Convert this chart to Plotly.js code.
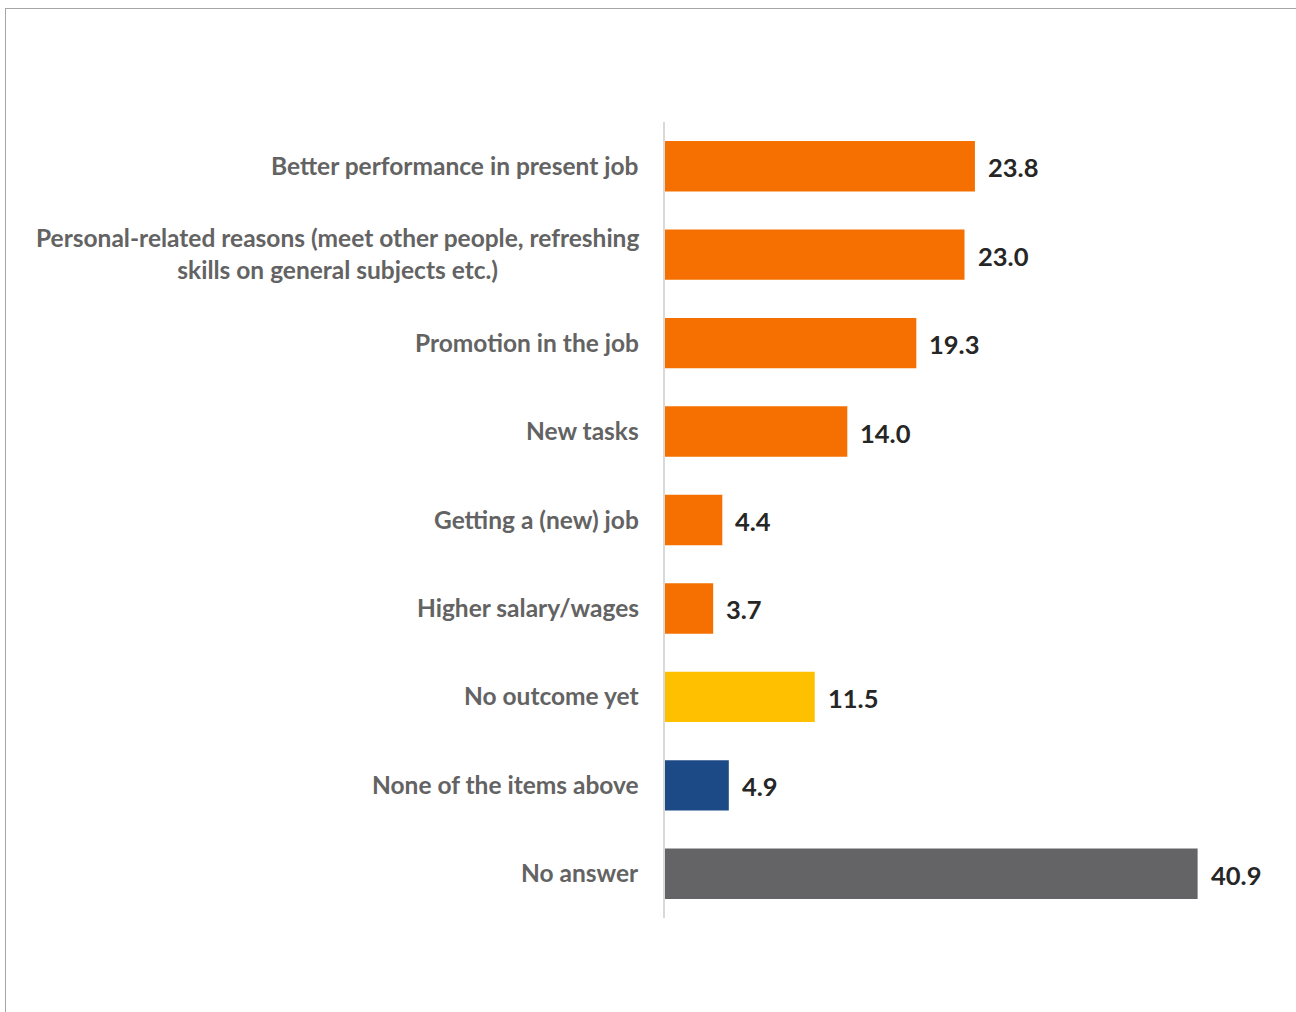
<!DOCTYPE html>
<html>
<head>
<meta charset="utf-8">
<script src="https://cdn.plot.ly/plotly-3.0.1.min.js"></script>
<style>
  html, body { margin: 0; padding: 0; background: #fff; }
  #wrap { position: relative; width: 1296px; height: 1012px; overflow: hidden; }
  #chart { position: absolute; left: 0; top: 0; width: 1296px; height: 1012px; }
  #frame { position: absolute; left: 5px; top: 8px; width: 1400px; height: 1100px;
           border-top: 1px solid #a6a6a6; border-left: 1px solid #a6a6a6; pointer-events: none; }
</style>
</head>
<body>
<div id="wrap">
  <div id="chart"></div>
  <div id="frame"></div>
</div>
<script>
const categories = [
  "Better performance in present job",
  "Personal-related reasons (meet other people, refreshing<br>skills on general subjects etc.)",
  "Promotion in the job",
  "New tasks",
  "Getting a (new) job",
  "Higher salary/wages",
  "No outcome yet",
  "None of the items above",
  "No answer"
];
const values = [23.8, 23.0, 19.3, 14.0, 4.4, 3.7, 11.5, 4.9, 40.9];
const valueLabels = ["23.8", "23.0", "19.3", "14.0", "4.4", "3.7", "11.5", "4.9", "40.9"];
const barColors = ["#F57000", "#F57000", "#F57000", "#F57000", "#F57000", "#F57000",
                   "#FFC000", "#1C4A86", "#646466"];

const labelFont = { family: "Lato, 'Open Sans', sans-serif", size: 24.5, color: "#636363", weight: 700 };
const valueFont = { family: "Lato, 'Open Sans', sans-serif", size: 25.5, color: "#262626", weight: 700 };

const trace = {
  type: "bar",
  orientation: "h",
  y: categories,
  x: values,
  width: 0.57,
  marker: { color: barColors, line: { width: 0 } },
  hoverinfo: "none"
};

const annotations = [];
categories.forEach((c, i) => {
  annotations.push({
    xref: "paper", yref: "y", x: 0, y: c, text: c,
    xanchor: "right", yanchor: "middle", align: "center",
    xshift: -24, yshift: 1, showarrow: false, font: labelFont
  });
  annotations.push({
    xref: "x", yref: "y", x: values[i], y: c, text: valueLabels[i],
    xanchor: "left", yanchor: "middle", xshift: 11, yshift: -1,
    showarrow: false, font: valueFont
  });
});

const layout = {
  width: 1296, height: 1012,
  margin: { l: 665, r: 45, t: 122, b: 94 },
  paper_bgcolor: "#ffffff", plot_bgcolor: "#ffffff",
  showlegend: false,
  xaxis: { range: [0, 45], showgrid: false, zeroline: false, showline: false,
           showticklabels: false, ticks: "" },
  yaxis: { type: "category", autorange: "reversed", showgrid: false, zeroline: false,
           showline: true, linecolor: "#d9d9d9", linewidth: 2, showticklabels: false, ticks: "" },
  annotations: annotations
};

Plotly.newPlot("chart", [trace], layout, { displayModeBar: false, staticPlot: true });
</script>
</body>
</html>
